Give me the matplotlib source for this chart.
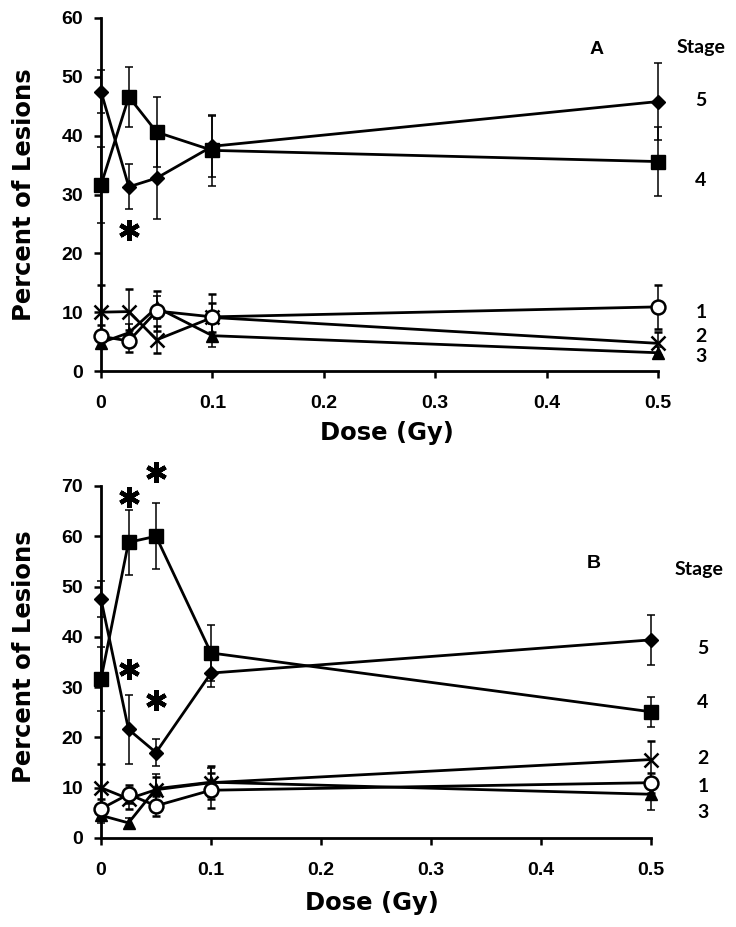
import matplotlib
matplotlib.use("Agg")
import matplotlib.pyplot as plt

dose = [0, 0.025, 0.05, 0.1, 0.5]

# Panel A
a_s5 = [47.5, 31.3, 32.8, 38.2, 45.8]; a_s5_err = [3.6, 3.8, 7.0, 5.2, 6.6]
a_s4 = [31.6, 46.6, 40.6, 37.5, 35.6]; a_s4_err = [6.4, 5.1, 6.0, 6.0, 5.8]
a_s1 = [5.9, 5.1, 10.2, 9.2, 10.9];    a_s1_err = [2.0, 1.9, 3.4, 3.9, 3.7]
a_s2 = [10.0, 10.1, 5.3, 9.1, 4.7];    a_s2_err = [4.7, 3.8, 2.3, 2.5, 2.0]
a_s3 = [4.8, 6.5, 10.8, 6.0, 3.1];     a_s3_err = [1.0, 1.5, 2.0, 2.0, 1.0]

# Panel B
b_s5 = [47.5, 21.6, 17.0, 32.8, 39.4]; b_s5_err = [3.6, 6.8, 2.6, 2.8, 5.0]
b_s4 = [31.6, 58.8, 60.0, 36.8, 25.1]; b_s4_err = [6.4, 6.5, 6.6, 5.5, 3.0]
b_s1 = [5.8, 8.7, 6.4, 9.5, 11.0];     b_s1_err = [2.0, 1.8, 2.0, 3.5, 2.0]
b_s2 = [10.0, 7.8, 9.6, 11.0, 15.6];   b_s2_err = [4.7, 2.0, 2.5, 3.3, 3.7]
b_s3 = [4.5, 3.0, 9.8, 11.1, 8.7];     b_s3_err = [1.5, 1.0, 2.9, 2.9, 3.2]

x_ticks = [0, 0.1, 0.2, 0.3, 0.4, 0.5]
x_ticklabels = ["0", "0.1", "0.2", "0.3", "0.4", "0.5"]

# significance asterisks (x, y)
a_star_x = [0.025]
a_star_y = [24.0]
b_star_x = [0.025, 0.05, 0.025, 0.05]
b_star_y = [67.9, 72.8, 33.7, 27.4]

styles = {
    "s5": dict(marker="D", ms=7, mfc="black", mec="black"),
    "s4": dict(marker="s", ms=10, mfc="black", mec="black"),
    "s1": dict(marker="o", ms=10, mfc="white", mec="black", mew=1.8),
    "s2": dict(marker="x", ms=10, mfc="black", mec="black", mew=1.8),
    "s3": dict(marker="^", ms=8, mfc="black", mec="black"),
}

tick_font = dict(family="Liberation Sans", weight="bold", size=14)
label_font = dict(family="DejaVu Sans", weight="bold", size=17.5)
cal_font = dict(family="Lato", weight="bold", size=14)

fig = plt.figure(figsize=(7.36, 9.27), dpi=100)
W, H = 736, 927

def make_ax(left, right, top, bottom):
    return fig.add_axes([left / W, 1 - bottom / H, (right - left) / W, (bottom - top) / H])

axA = make_ax(101, 658, 18, 371)
axB = make_ax(101, 651, 486, 838)

def draw(ax, series, ymax, ystep, xlab_pos, ylab_pos):
    for key, y, e in series:
        st = styles[key]
        ax.errorbar(dose, y, yerr=e, color="black", lw=2, elinewidth=1.1, capsize=3,
                    capthick=1.1, clip_on=False, zorder=3, **st)
    ax.set_xlim(0, 0.5)
    ax.set_ylim(0, ymax)
    ax.set_xticks(x_ticks)
    ax.set_xticklabels(x_ticklabels, **tick_font)
    yt = list(range(0, ymax + 1, ystep))
    ax.set_yticks(yt)
    ax.set_yticklabels([str(v) for v in yt], **tick_font)
    for s in ["top", "right"]:
        ax.spines[s].set_visible(False)
    for s in ["left", "bottom"]:
        ax.spines[s].set_linewidth(2)
    ax.tick_params(direction="out", length=5, width=1.8)
    ax.tick_params(axis="x", pad=12)
    ax.tick_params(axis="y", pad=8)
    ax.set_xlabel("Dose (Gy)", va="center", ha="center", **label_font)
    ax.xaxis.set_label_coords(*xlab_pos)
    ax.set_ylabel("Percent of Lesions", va="center", ha="center", **label_font)
    ax.yaxis.set_label_coords(*ylab_pos)

draw(axA, [("s3", a_s3, a_s3_err), ("s2", a_s2, a_s2_err), ("s1", a_s1, a_s1_err),
           ("s5", a_s5, a_s5_err), ("s4", a_s4, a_s4_err)], 60, 10,
     (0.513, -(433 - 371) / 353), ((24 - 101) / 557, 0.5))
draw(axB, [("s3", b_s3, b_s3_err), ("s2", b_s2, b_s2_err), ("s1", b_s1, b_s1_err),
           ("s5", b_s5, b_s5_err), ("s4", b_s4, b_s4_err)], 70, 10,
     (0.493, -(903 - 838) / 352), ((24 - 101) / 550, 0.515))

star = dict(marker=(6, 2, 0), ms=15, mew=3.2, color="black", ls="none", clip_on=False, zorder=4)
axA.plot(a_star_x, a_star_y, **star)
axB.plot(b_star_x, b_star_y, **star)

def fig_text(px, py, s, **kw):
    fig.text(px / W, 1 - py / H, s, ha="center", va="center", **kw)

fig_text(597, 50, "A", family="Liberation Sans", weight="bold", size=14)
fig_text(701, 47, "Stage", **cal_font)
for lab, py in [("5", 101), ("4", 180), ("1", 312), ("2", 337), ("3", 356)]:
    fig_text(701, py, lab, **cal_font)

fig_text(594, 564, "B", family="Liberation Sans", weight="bold", size=14)
fig_text(699, 569, "Stage", **cal_font)
for lab, py in [("5", 649), ("4", 703), ("2", 759), ("1", 786), ("3", 812)]:
    fig_text(703, py, lab, **cal_font)

fig.savefig("out.png", dpi=100)
